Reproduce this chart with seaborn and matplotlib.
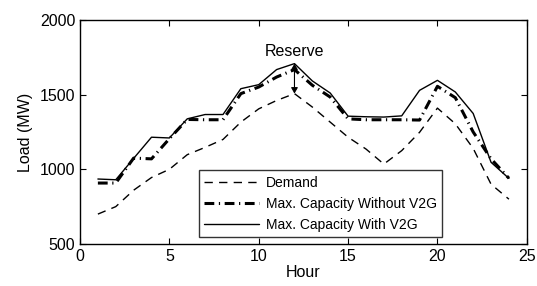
"""
Hourly load versus maximum available capacity, with and without V2G.
Saves the figure as out.png.
"""
import matplotlib
matplotlib.use("Agg")
import matplotlib.pyplot as plt
import seaborn as sns
import pandas as pd

hours = list(range(1, 25))
demand = [700, 750, 860, 945, 1000, 1098, 1147, 1200, 1316, 1405, 1461, 1507,
          1417, 1316, 1215, 1136, 1035, 1125, 1248, 1410, 1305, 1140, 900, 800]
cap_without_v2g = [908, 908, 1075, 1070, 1205, 1334, 1332, 1332, 1507, 1551, 1618, 1668,
                   1563, 1484, 1338, 1332, 1332, 1332, 1330, 1556, 1480, 1250, 1070, 940]
cap_with_v2g = [935, 930, 1073, 1215, 1210, 1338, 1367, 1367, 1540, 1567, 1668, 1708,
                1592, 1511, 1356, 1352, 1350, 1358, 1529, 1596, 1518, 1374, 1047, 939]
labels = ["Demand", "Max. Capacity Without V2G", "Max. Capacity With V2G"]
x_ticks = [0, 5, 10, 15, 20, 25]
y_ticks = [500, 1000, 1500, 2000]
reserve_hour = 12


def main():
    sns.set_style("ticks")
    plt.rcParams["font.family"] = ["Liberation Sans", "DejaVu Sans"]
    plt.rcParams["xtick.direction"] = "in"
    plt.rcParams["ytick.direction"] = "in"
    for key in ["text.color", "axes.labelcolor", "xtick.color", "ytick.color"]:
        plt.rcParams[key] = "black"

    df = pd.DataFrame({"hour": hours, "demand": demand,
                       "without": cap_without_v2g, "with": cap_with_v2g})

    fig = plt.figure(figsize=(5.37, 2.86), dpi=100)
    ax = fig.add_axes([0.149, 0.147, 0.832, 0.783])

    sns.lineplot(data=df, x="hour", y="demand", ax=ax, color="black", lw=1,
                 linestyle=(0, (6, 4.5)), label=labels[0])
    sns.lineplot(data=df, x="hour", y="without", ax=ax, color="black", lw=2.2,
                 linestyle=(0, (3.2, 1.5, 0.4, 1.5)), label=labels[1])
    sns.lineplot(data=df, x="hour", y="with", ax=ax, color="black", lw=1,
                 label=labels[2])

    # reserve arrow between demand and capacity at the peak hour
    i = hours.index(reserve_hour)
    ax.annotate("", xy=(reserve_hour, demand[i]), xytext=(reserve_hour, cap_with_v2g[i]),
                arrowprops=dict(arrowstyle="<|-|>,head_length=0.35,head_width=0.2",
                                color="black", lw=0.8, shrinkA=0, shrinkB=0))
    ax.text(reserve_hour, 1790, "Reserve", ha="center", va="center", fontsize=11.5)

    ax.set_xlim(0, 25)
    ax.set_ylim(500, 2000)
    ax.set_xticks(x_ticks)
    ax.set_yticks(y_ticks)
    ax.tick_params(top=True, right=True, labelsize=11.5, length=4, width=0.8)
    ax.set_xlabel("Hour", fontsize=11.5, labelpad=1)
    ax.set_ylabel("Load (MW)", fontsize=11.5, labelpad=5)
    for s in ax.spines.values():
        s.set_visible(True)
        s.set_color("black")
        s.set_linewidth(1)

    leg = ax.legend(loc="lower left", bbox_to_anchor=(0.266, 0.03, 0.55, 0.32),
                    fontsize=10, frameon=True, fancybox=False, edgecolor="black",
                    handlelength=3.9, handletextpad=0.5, labelspacing=0.5,
                    borderpad=0.4, borderaxespad=0)
    leg.get_frame().set_linewidth(1)

    fig.savefig("out.png", dpi=100)


if __name__ == "__main__":
    main()
